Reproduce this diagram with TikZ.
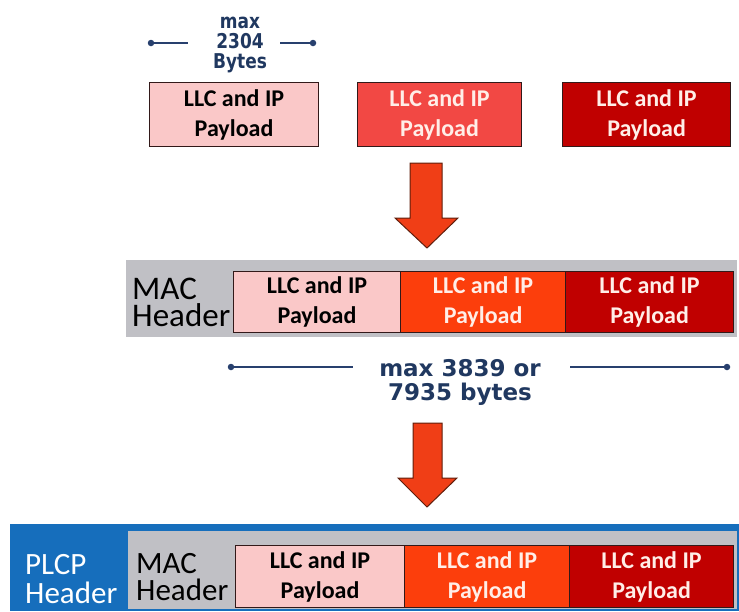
\documentclass[tikz,border=0pt]{standalone}
\usepackage{fontspec}
\newfontfamily\calfont{Carlito}
\newfontfamily\dvfont{DejaVu Sans}
\definecolor{navy}{RGB}{32,56,96}
\definecolor{navyline}{RGB}{40,64,110}
\definecolor{pinkbox}{RGB}{250,200,200}
\definecolor{salmonbox}{RGB}{242,72,68}
\definecolor{orangebox}{RGB}{252,62,12}
\definecolor{darkred}{RGB}{192,0,0}
\definecolor{macgray}{RGB}{192,192,197}
\definecolor{plcpblue}{RGB}{22,110,188}
\definecolor{boxline}{RGB}{50,25,25}
\definecolor{arrowfill}{RGB}{240,62,22}
\definecolor{arrowline}{RGB}{95,30,12}
\definecolor{lighttext}{RGB}{255,238,232}
\newcommand{\tallx}[1]{\scalebox{1}[1.2]{#1}}
\begin{document}
\begin{tikzpicture}[x=1pt,y=-1pt,
  pay/.style={draw=boxline, line width=1.1pt, inner sep=0pt, anchor=north west,
    align=center, font=\calfont\bfseries\fontsize{24}{30}\selectfont},
  band/.style={inner sep=0pt, anchor=north west, draw=none},
  hdr/.style={inner sep=0pt, anchor=north west, align=left},
  dim/.style={navyline, line width=1.4pt},
  dot/.style={circle, fill=navyline, inner sep=0pt, minimum size=6.5pt},
  bigarrow/.style={fill=arrowfill, draw=arrowline, line width=1pt, line join=miter}
]
\useasboundingbox (0,0) rectangle (739,611);

% ---------- top row ----------
\node[pay, fill=pinkbox, minimum width=169pt, minimum height=64pt] (t1) at (149,82) {LLC and IP\\Payload};
\node[pay, fill=salmonbox, text=lighttext, minimum width=164pt, minimum height=64pt] (t2) at (357,82) {LLC and IP\\Payload};
\node[pay, fill=darkred, text=lighttext, minimum width=168pt, minimum height=64pt] (t3) at (562,82) {LLC and IP\\Payload};

\node[inner sep=0pt, anchor=north, align=center, text=navy,
  font=\dvfont\bfseries\fontsize{17}{20}\selectfont] (lbl1) at (240,17) {\tallx{max}\\\tallx{2304}\\\tallx{Bytes}};
\node[dot] (d1a) at (151,43) {};
\node[dot] (d1b) at (313,43) {};
\coordinate (e1a) at (188,43);
\coordinate (e1b) at (280,43);
\draw[dim] (d1a.center) -- (e1a);
\draw[dim] (e1b) -- (d1b.center);

% ---------- arrow 1 ----------
\draw[bigarrow] (410,163) -- (442,163) -- (442,218) -- (458,218) -- (427,248) -- (395,218) -- (410,218) -- cycle;

% ---------- MAC row ----------
\node[band, fill=macgray, minimum width=611pt, minimum height=77pt] (mband) at (126,260) {};
\node[hdr, font=\calfont\fontsize{33}{27}\selectfont] (mhdr) at (132,278) {MAC\\Header};
\node[pay, fill=pinkbox, minimum width=167pt, minimum height=61pt] (m1) at (233,271) {LLC and IP\\Payload};
\node[pay, fill=orangebox, text=lighttext, minimum width=165pt, minimum height=61pt] (m2) at (400,271) {LLC and IP\\Payload};
\node[pay, fill=darkred, text=lighttext, minimum width=168pt, minimum height=61pt] (m3) at (565,271) {LLC and IP\\Payload};

\node[inner sep=0pt, anchor=north, align=center, text=navy,
  font=\dvfont\bfseries\fontsize{23}{24}\selectfont] (lbl2) at (460,359) {max 3839 or\\7935 bytes};
\node[dot] (d2a) at (231,367) {};
\node[dot] (d2b) at (727,367) {};
\coordinate (e2a) at (353,367);
\coordinate (e2b) at (570,367);
\draw[dim] (d2a.center) -- (e2a);
\draw[dim] (e2b) -- (d2b.center);

% ---------- arrow 2 ----------
\draw[bigarrow] (413,423) -- (442,423) -- (442,478) -- (457,478) -- (427,507) -- (398,478) -- (413,478) -- cycle;

% ---------- PLCP row ----------
\node[band, fill=plcpblue, minimum width=729pt, minimum height=87pt] (pband) at (10,524) {};
\node[hdr, text=white, font=\calfont\fontsize{31}{29}\selectfont] (phdr) at (25,554) {PLCP\\Header};
\node[band, fill=macgray, minimum width=609pt, minimum height=78pt] (pmband) at (128,531) {};
\node[hdr, font=\calfont\fontsize{31}{27}\selectfont] (pmhdr) at (136,553) {MAC\\Header};
\node[pay, fill=pinkbox, minimum width=169pt, minimum height=62pt] (p1) at (235,545) {LLC and IP\\Payload};
\node[pay, fill=orangebox, text=lighttext, minimum width=165pt, minimum height=62pt] (p2) at (404,545) {LLC and IP\\Payload};
\node[pay, fill=darkred, text=lighttext, minimum width=164pt, minimum height=62pt] (p3) at (569,545) {LLC and IP\\Payload};
\end{tikzpicture}
\end{document}
